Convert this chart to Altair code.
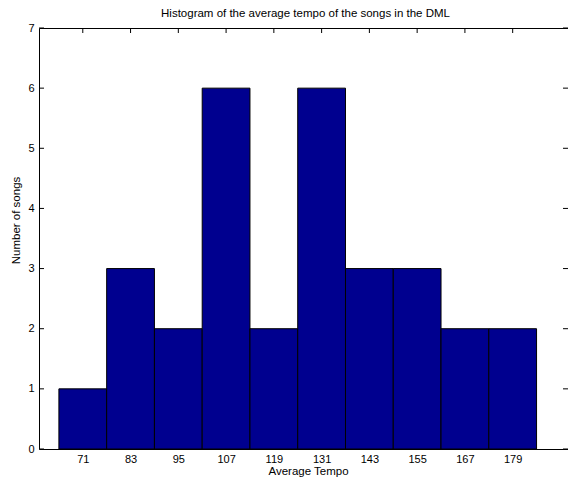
import altair as alt
import pandas as pd

# Data
centers = [71, 83, 95, 107, 119, 131, 143, 155, 167, 179]
counts = [1, 3, 2, 6, 2, 6, 3, 3, 2, 2]
bin_width = 12
y_ticks = [0, 1, 2, 3, 4, 5, 6, 7]
x_domain = [60, 192.9]
y_domain = [0, 7]

W, H = 529, 421
FONT = "Liberation Sans"
BAR_COLOR = "#00008F"

df = pd.DataFrame({"center": centers, "count": counts})
df["start"] = df["center"] - bin_width / 2
df["end"] = df["center"] + bin_width / 2
df["zero"] = 0

xticks_df = pd.DataFrame({"c": centers})
yticks_df = pd.DataFrame({"v": y_ticks})

xscale = alt.Scale(domain=x_domain, nice=False, zero=False)
yscale = alt.Scale(domain=y_domain, nice=False)

x_axis = alt.Axis(values=centers, title="Average Tempo", ticks=False, domain=False,
                  grid=False, labelPadding=4, labelFontSize=11, titleFontSize=11.5,
                  titleFontWeight="normal", labelFont=FONT, titleFont=FONT,
                  titlePadding=1, labelColor="black", titleColor="black",
                  format="d", labelFlush=False, titleX=269)
y_axis = alt.Axis(values=y_ticks, title="Number of songs", ticks=False, domain=False,
                  grid=False, labelPadding=5, labelFontSize=11, titleFontSize=11.5,
                  titleFontWeight="normal", labelFont=FONT, titleFont=FONT,
                  titlePadding=6, labelColor="black", titleColor="black",
                  format="d", labelFlush=False, titleY=192)

bars = alt.Chart(df).mark_rect(color=BAR_COLOR, stroke="black", strokeWidth=1).encode(
    x=alt.X("start:Q", scale=xscale, axis=x_axis),
    x2="end:Q",
    y=alt.Y("count:Q", scale=yscale, axis=y_axis),
    y2="zero:Q",
)

xt_bottom = alt.Chart(xticks_df).mark_rule(color="black", strokeWidth=1).encode(
    x=alt.X("c:Q", scale=xscale, axis=x_axis), y=alt.value(H), y2=alt.value(H - 5))
xt_top = alt.Chart(xticks_df).mark_rule(color="black", strokeWidth=1).encode(
    x=alt.X("c:Q", scale=xscale, axis=x_axis), y=alt.value(0), y2=alt.value(5))
yt_left = alt.Chart(yticks_df).mark_rule(color="black", strokeWidth=1).encode(
    y=alt.Y("v:Q", scale=yscale, axis=y_axis), x=alt.value(0), x2=alt.value(5))
yt_right = alt.Chart(yticks_df).mark_rule(color="black", strokeWidth=1).encode(
    y=alt.Y("v:Q", scale=yscale, axis=y_axis), x=alt.value(W), x2=alt.value(W - 5))

chart = alt.layer(xt_bottom, xt_top, yt_left, yt_right, bars).properties(
    width=W, height=H,
    title=alt.TitleParams("Histogram of the average tempo of the songs in the DML",
                          fontSize=11.5, fontWeight="normal", font=FONT, color="black",
                          dx=2, offset=3, anchor="middle"),
    autosize=alt.AutoSizeParams(type="none"),
    padding={"left": 31, "top": 20, "right": 0, "bottom": 28},
    background="white",
).configure_view(stroke="black", strokeWidth=1)

chart.save("out.html", embed_options={"renderer": "svg", "actions": False})
